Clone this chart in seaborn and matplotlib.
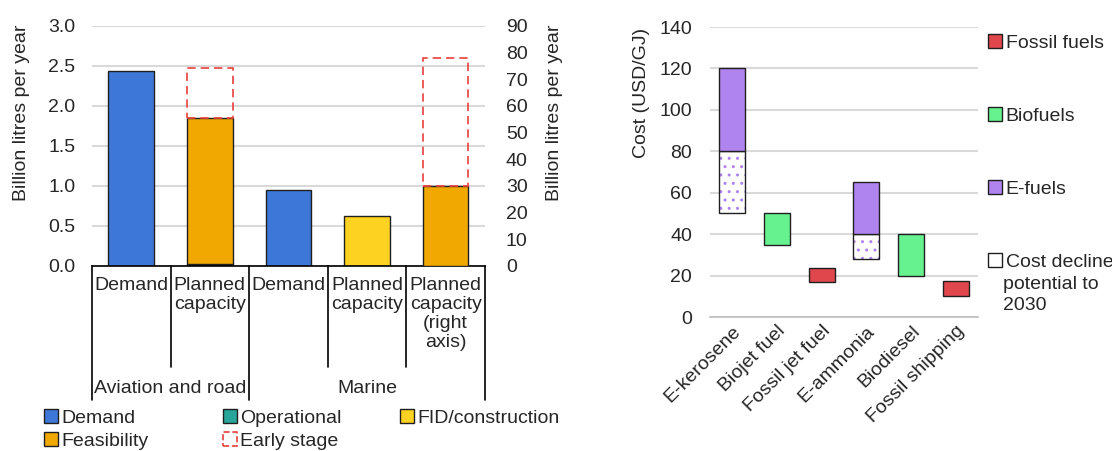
import numpy as np
import matplotlib
matplotlib.use("Agg")
import matplotlib.pyplot as plt
import matplotlib.transforms as mtransforms
from matplotlib.patches import Patch
import seaborn as sns

# ---- left panel: demand vs planned capacity (billion litres per year) ----
left_cats = ["Aviation demand", "Aviation planned", "Marine demand", "Marine planned", "Marine planned right"]
left_labels = ["Demand", "Planned\ncapacity", "Demand", "Planned\ncapacity", "Planned\ncapacity\n(right\naxis)"]
group_names = ["Aviation and road", "Marine"]
group_sizes = [2, 3]

demand = [2.44, 0, 0.95, 0, 0]
operational = [0, 0.01, 0, 0, 0]
fid_construction = [0, 0.02, 0, 0.62, 0]
feasibility = [0, 1.82, 0, 0, 30]      # last bar is read on the right axis
early_stage = [0, 0.63, 0, 0, 48]
on_right_axis = [False, False, False, False, True]

# ---- right panel: production cost (USD/GJ) ----
fuels = ["E-kerosene", "Biojet fuel", "Fossil jet fuel", "E-ammonia", "Biodiesel", "Fossil shipping"]
fuel_group = ["E-fuels", "Biofuels", "Fossil fuels", "E-fuels", "Biofuels", "Fossil fuels"]
cost_2030 = [50, np.nan, np.nan, 28, np.nan, np.nan]
cost_low = [80, 35, 17, 40, 20, 10]
cost_high = [120, 50, 23.5, 65, 40, 17.5]

seg_colors = {"Demand": "#3D78D8", "Operational": "#27A59A",
              "FID/construction": "#FDD220", "Feasibility": "#F1A800"}
early_color = "#E8413C"
fuel_colors = {"Fossil fuels": "#E0474C", "Biofuels": "#66F28F", "E-fuels": "#B084EE"}
edge = "#1F1F1F"
grid_color = "#D9D9D9"

sns.set_style("white")
plt.rcParams["font.family"] = ["Liberation Sans", "DejaVu Sans"]
plt.rcParams["font.size"] = 14

fig = plt.figure(figsize=(11.12, 4.51), dpi=100)
ax = fig.add_axes([0.0827, 0.4102, 0.3534, 0.5322])
ax2 = ax.twinx()

# stacked bars
segments = [("Demand", demand), ("Operational", operational),
            ("FID/construction", fid_construction), ("Feasibility", feasibility)]
for i, cat in enumerate(left_cats):
    axis = ax2 if on_right_axis[i] else ax
    base = 0
    for name, vals in segments:
        if vals[i] > 0:
            sns.barplot(x=[cat], y=[vals[i]], order=left_cats, bottom=base,
                        color=seg_colors[name], saturation=1, width=0.58,
                        edgecolor=edge, linewidth=1.0, errorbar=None, ax=axis)
            base += vals[i]
    if early_stage[i] > 0:
        sns.barplot(x=[cat], y=[early_stage[i]], order=left_cats, bottom=base,
                    color=early_color, saturation=1, facecolor="none",
                    edgecolor=early_color, linestyle=(0, (5, 3)), linewidth=1.2,
                    width=0.58, errorbar=None, ax=axis)

ax.set_ylim(0, 3)
ax.set_yticks(np.arange(0, 3.01, 0.5))
ax.set_yticklabels([f"{v:.1f}" for v in np.arange(0, 3.01, 0.5)])
ax2.set_ylim(0, 90)
ax2.set_yticks(np.arange(0, 91, 10))
ax.set_xlim(-0.5, 4.5)
ax.set_xticks([])
ax2.set_xticks([])
ax.set_xlabel("")
ax2.set_xlabel("")
ax.grid(axis="y", color=grid_color, linewidth=1.5)
ax.set_axisbelow(True)
ax.tick_params(axis="y", length=0, pad=12, labelsize=14)
ax2.tick_params(axis="y", length=0, pad=15, labelsize=14)
for a in (ax, ax2):
    for s in a.spines.values():
        s.set_visible(False)
ax.spines["bottom"].set_visible(True)
ax.spines["bottom"].set_color("black")
ax.spines["bottom"].set_linewidth(1.2)

ax.set_ylabel("Billion litres per year", fontsize=14)
ax.yaxis.set_label_coords(-0.158, 0.64)
ax2.set_ylabel("Billion litres per year", fontsize=14)
ax2.yaxis.set_label_coords(1.155, 0.64)

# category table under the axis
trans = mtransforms.blended_transform_factory(ax.transData, ax.transAxes)
group_edges = np.concatenate([[0], np.cumsum(group_sizes)]) - 0.5
for k in range(len(left_cats) + 1):
    xb = k - 0.5
    low = -0.558 if xb in group_edges else -0.42
    ax.plot([xb, xb], [0, low], transform=trans, color="black", lw=1.2, clip_on=False)
for i, lab in enumerate(left_labels):
    ax.text(i, -0.045, lab, transform=trans, ha="center", va="top",
            fontsize=14, linespacing=1.15)
for g, name in enumerate(group_names):
    xc = (group_edges[g] + group_edges[g + 1]) / 2
    ax.text(xc, -0.51, name, transform=trans, ha="center", va="center", fontsize=14)

# legend of left panel
def sq(c):
    return Patch(facecolor=c, edgecolor=edge, linewidth=1.0)

early_handle = Patch(facecolor="none", edgecolor=early_color, linestyle="--", linewidth=1.2)
leg_cols = [
    ([sq(seg_colors["Demand"]), sq(seg_colors["Feasibility"])], ["Demand", "Feasibility"], 44),
    ([sq(seg_colors["Operational"]), early_handle], ["Operational", "Early stage"], 223),
    ([sq(seg_colors["FID/construction"])], ["FID/construction"], 400),
]
for handles, labels, xpx in leg_cols:
    fig.legend(handles, labels, loc="upper left",
               bbox_to_anchor=(xpx / 1112, 1 - 409 / 451), frameon=False,
               borderpad=0, borderaxespad=0, handlelength=0.7, handleheight=0.7,
               handletextpad=0.2, labelspacing=0.3, fontsize=14)

# ---- right panel ----
bx = fig.add_axes([0.6385, 0.2971, 0.2410, 0.6430])
for i, fuel in enumerate(fuels):
    if not np.isnan(cost_2030[i]):
        sns.barplot(x=[fuel], y=[cost_low[i] - cost_2030[i]], order=fuels,
                    bottom=cost_2030[i], color="white", saturation=1,
                    edgecolor=fuel_colors["E-fuels"], hatch="..", linewidth=0,
                    width=0.58, errorbar=None, ax=bx)
        sns.barplot(x=[fuel], y=[cost_low[i] - cost_2030[i]], order=fuels,
                    bottom=cost_2030[i], color="white", facecolor="none", edgecolor=edge,
                    linewidth=1.0, width=0.58, errorbar=None, ax=bx)
    sns.barplot(x=[fuel], y=[cost_high[i] - cost_low[i]], order=fuels,
                bottom=cost_low[i], color=fuel_colors[fuel_group[i]], saturation=1,
                edgecolor=edge, linewidth=1.0, width=0.58, errorbar=None, ax=bx)

bx.set_ylim(0, 140)
bx.set_yticks(np.arange(0, 141, 20))
bx.set_xlim(-0.5, len(fuels) - 0.5)
bx.set_xlabel("")
bx.set_ylabel("Cost (USD/GJ)", fontsize=14)
bx.yaxis.set_label_coords(-0.224, 0.772)
bx.grid(axis="y", color=grid_color, linewidth=1.5)
bx.set_axisbelow(True)
for s in ["top", "right", "left"]:
    bx.spines[s].set_visible(False)
bx.spines["bottom"].set_color("#BFBFBF")
bx.spines["bottom"].set_linewidth(1.2)
bx.tick_params(axis="y", length=0, pad=13, labelsize=14)
bx.tick_params(axis="x", which="major", length=0, pad=4, labelsize=14)
bx.set_xticks(np.arange(-0.5, len(fuels)), minor=True)
bx.tick_params(axis="x", which="minor", length=5, color="#BFBFBF", width=1.2)
plt.setp(bx.get_xticklabels(), rotation=45, ha="right", va="top", rotation_mode="anchor")

right_handles = [sq(fuel_colors["Fossil fuels"]), sq(fuel_colors["Biofuels"]),
                 sq(fuel_colors["E-fuels"]), sq("white")]
right_labels = ["Fossil fuels", "Biofuels", "E-fuels", "Cost decline"]
fig.legend(right_handles, right_labels, loc="upper left",
           bbox_to_anchor=(988 / 1112, 1 - 34 / 451), frameon=False,
           borderpad=0, borderaxespad=0, handlelength=0.7, handleheight=0.7,
           handletextpad=0.2, labelspacing=2.85, fontsize=14)
fig.text(1003 / 1112, 1 - 276 / 451, "potential to\n2030", ha="left", va="top",
         fontsize=14, linespacing=1.3)

fig.savefig("out.png", dpi=100)
